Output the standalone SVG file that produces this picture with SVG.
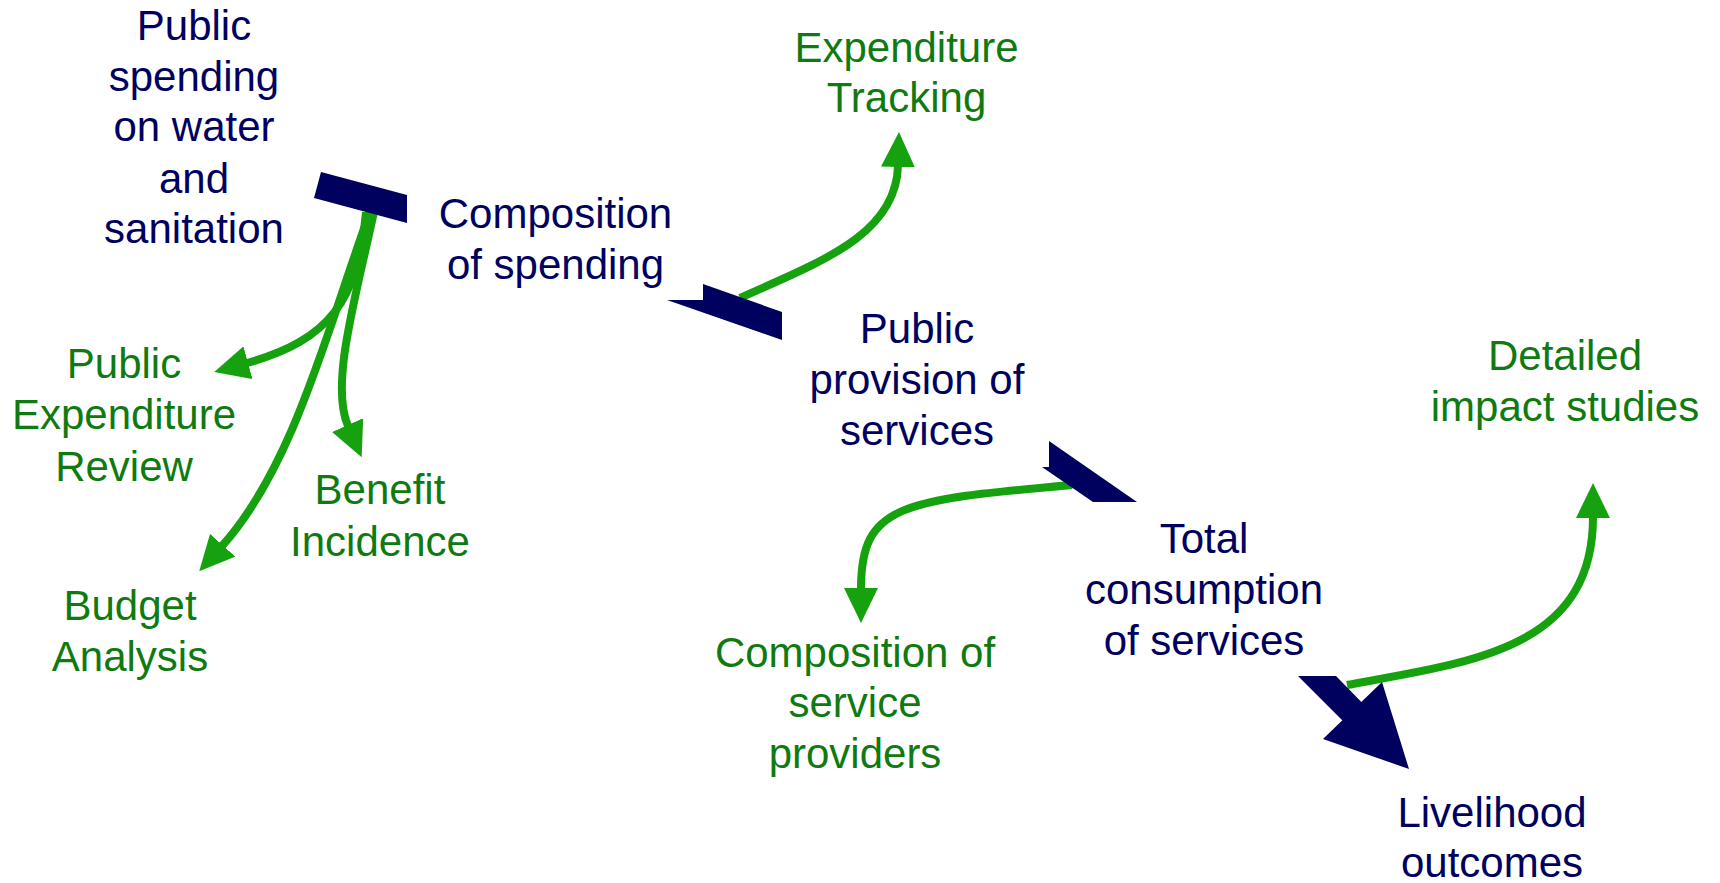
<svg xmlns="http://www.w3.org/2000/svg" width="1720" height="883" viewBox="0 0 1720 883">
  <style>
    text { font-family: "Liberation Sans", Arial, sans-serif; font-size: 42px; text-anchor: middle; }
    .blue { fill: #00005f; }
    .green { fill: #0f7a0f; }
    .link { fill: none; stroke: #16a20e; stroke-width: 8; marker-end: url(#ah); }
    .flow { fill: #00005f; stroke: none; }
  </style>
  <defs>
    <marker id="ah" markerUnits="userSpaceOnUse" viewBox="0 0 35 34" markerWidth="35" markerHeight="34" refX="1" refY="17" orient="auto">
      <path d="M0,0 L35,17 L0,34 z" fill="#16a20e"/>
    </marker>
  </defs>
  <rect width="1720" height="883" fill="#ffffff"/>

  <g id="connectors">
    <path class="link" d="M366,212 C358,300 330,340 247,363"/>
    <path class="link" d="M374,212 C355,300 330,385 348,426"/>
    <path class="link" d="M370,212 C330,320 295,465 222,546"/>
    <path class="link" d="M740,298 C820,262 896,235 898,166"/>
    <path class="link" d="M1072,485 C900,500 861,505 861,589"/>
    <path class="link" d="M1347,685 C1470,662 1593,650 1593,517"/>
    <g id="main-flow">
      <polygon class="flow" points="321,172 407,195 407,223 314,198"/>
      <polygon class="flow" points="667,300 703,300 703,284 782,312 782,340"/>
      <polygon class="flow" points="1049,441 1137,502 1093,502 1042,467 1049,467"/>
      <polygon class="flow" points="1298,676 1336,676 1376,717 1343,721"/>
      <polygon class="flow" points="1323,739 1382,682 1409,769"/>
    </g>
  </g>

  <g id="n-public-spending" class="blue">
    <text x="194" y="39.5">Public</text>
    <text x="194" y="90.5">spending</text>
    <text x="194" y="141">on water</text>
    <text x="194" y="192.5">and</text>
    <text x="194" y="243">sanitation</text>
  </g>
  <g id="n-composition-spending" class="blue">
    <text x="555.5" y="228">Composition</text>
    <text x="555.5" y="279">of spending</text>
  </g>
  <g id="n-expenditure-tracking" class="green">
    <text x="906.5" y="62">Expenditure</text>
    <text x="906.5" y="112">Tracking</text>
  </g>
  <g id="n-public-provision" class="blue">
    <text x="917" y="343">Public</text>
    <text x="917" y="394">provision of</text>
    <text x="917" y="445">services</text>
  </g>
  <g id="n-detailed-impact" class="green">
    <text x="1565" y="370">Detailed</text>
    <text x="1565" y="421">impact studies</text>
  </g>
  <g id="n-per" class="green">
    <text x="124" y="378">Public</text>
    <text x="124" y="429">Expenditure</text>
    <text x="124" y="481">Review</text>
  </g>
  <g id="n-benefit" class="green">
    <text x="380" y="504">Benefit</text>
    <text x="380" y="556">Incidence</text>
  </g>
  <g id="n-budget" class="green">
    <text x="130" y="620">Budget</text>
    <text x="130" y="671">Analysis</text>
  </g>
  <g id="n-composition-providers" class="green">
    <text x="855" y="667">Composition of</text>
    <text x="855" y="717">service</text>
    <text x="855" y="768">providers</text>
  </g>
  <g id="n-total-consumption" class="blue">
    <text x="1204" y="553">Total</text>
    <text x="1204" y="604">consumption</text>
    <text x="1204" y="655">of services</text>
  </g>
  <g id="n-livelihood" class="blue">
    <text x="1492" y="827">Livelihood</text>
    <text x="1492" y="877">outcomes</text>
  </g>
</svg>
